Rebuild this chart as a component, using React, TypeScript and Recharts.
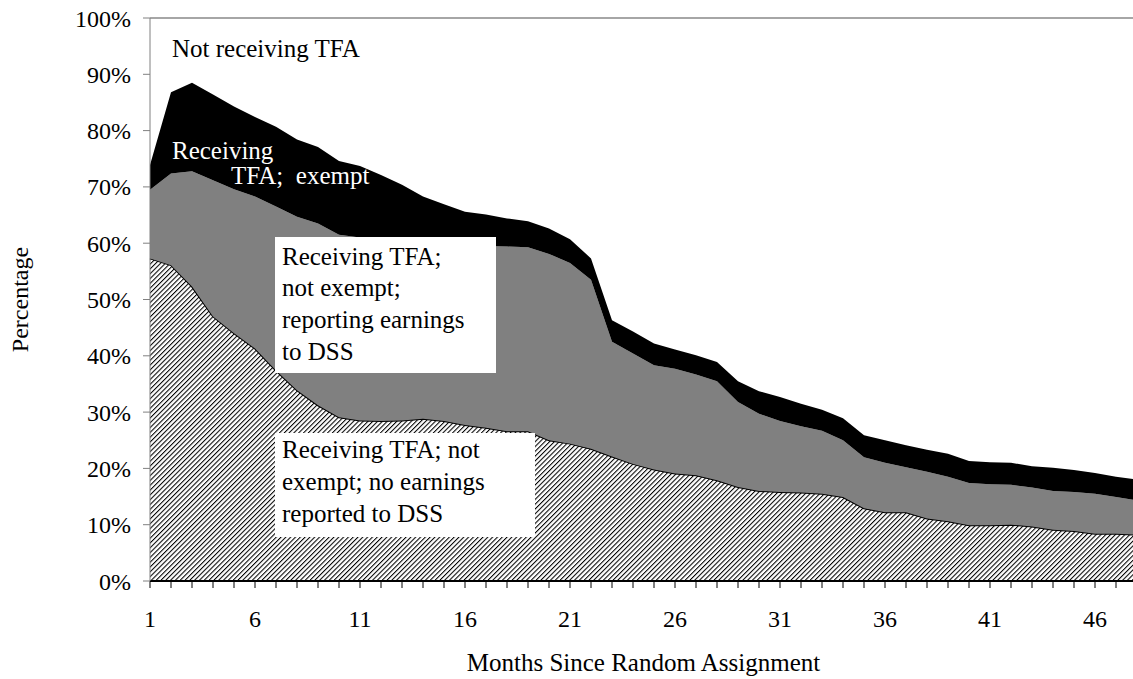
import React from 'react';
import { Area, AreaChart, ReferenceLine, XAxis, YAxis } from 'recharts';

const months = [
  1, 2, 3, 4, 5, 6, 7, 8, 9, 10, 11, 12, 13, 14, 15, 16, 17, 18, 19, 20, 21, 22, 23, 24,
  25, 26, 27, 28, 29, 30, 31, 32, 33, 34, 35, 36, 37, 38, 39, 40, 41, 42, 43, 44, 45, 46, 47, 48,
];

// Receiving TFA; not exempt; no earnings reported to DSS
const noEarnings = [
  57.3, 56.1, 52.3, 47.0, 44.0, 41.3, 37.4, 33.9, 31.2, 29.1,
  28.5, 28.4, 28.5, 28.8, 28.4, 27.7, 27.2, 26.6, 26.6, 25.0,
  24.4, 23.5, 22.1, 20.8, 19.8, 19.1, 18.8, 17.9, 16.7, 16.0,
  15.8, 15.7, 15.5, 14.9, 12.9, 12.2, 12.2, 11.1, 10.6, 9.9,
  9.9, 10.0, 9.7, 9.1, 8.9, 8.4, 8.4, 8.2,
];

// Receiving TFA; not exempt; reporting earnings to DSS
const reportingEarnings = [
  12.2, 16.3, 20.5, 24.2, 25.6, 27.0, 29.1, 30.8, 32.3, 32.4,
  32.5, 32.3, 31.9, 31.3, 31.4, 31.8, 32.3, 32.8, 32.7, 33.1,
  32.1, 30.0, 20.4, 19.6, 18.5, 18.6, 17.9, 17.6, 15.1, 13.7,
  12.6, 11.8, 11.2, 10.1, 9.1, 8.8, 8.0, 8.3, 7.9, 7.5,
  7.3, 7.1, 6.9, 6.9, 6.9, 7.1, 6.5, 6.1,
];

// Receiving TFA; exempt
const exempt = [
  4.4, 14.4, 15.7, 15.2, 14.7, 14.1, 14.2, 13.7, 13.6, 13.1,
  12.7, 11.4, 10.0, 8.2, 7.1, 6.1, 5.6, 5.0, 4.6, 4.5,
  4.2, 3.8, 3.8, 3.9, 3.9, 3.4, 3.4, 3.4, 3.7, 4.0,
  4.3, 4.0, 3.7, 3.9, 3.9, 4.0, 3.9, 3.9, 4.1, 3.9,
  3.9, 3.9, 3.8, 4.1, 3.9, 3.7, 3.6, 3.7,
];

const xTickLabels = [1, 6, 11, 16, 21, 26, 31, 36, 41, 46];
const yTicks = [0, 10, 20, 30, 40, 50, 60, 70, 80, 90, 100];

const data = months.map((month, i) => ({
  month,
  noEarnings: noEarnings[i],
  reportingEarnings: reportingEarnings[i],
  exempt: exempt[i],
}));

const FONT = "'Liberation Serif', 'Times New Roman', serif";

const note: React.CSSProperties = {
  position: 'absolute',
  fontFamily: FONT,
  fontSize: 25,
  lineHeight: '31.7px',
  whiteSpace: 'pre',
  color: '#000',
};

export default function App() {
  return (
    <div
      style={{
        position: 'absolute',
        left: 0,
        top: 0,
        width: 1133,
        height: 679,
        overflow: 'hidden',
        background: '#fff',
        fontFamily: FONT,
      }}
    >
      <AreaChart
        width={1145}
        height={679}
        data={data}
        margin={{ top: 18, right: 8, bottom: 0, left: 0 }}
        style={{ fontFamily: FONT }}
      >
        <defs>
          <pattern
            id="hatch"
            width="3.4"
            height="3.4"
            patternUnits="userSpaceOnUse"
            patternTransform="rotate(45)"
          >
            <rect width="3.4" height="3.4" fill="#fff" />
            <line x1="0" y1="0" x2="0" y2="3.4" stroke="#000" strokeWidth="2.1" />
          </pattern>
        </defs>
        <Area
          type="linear"
          dataKey="noEarnings"
          stackId="a"
          fill="url(#hatch)"
          fillOpacity={1}
          stroke="#000"
          strokeWidth={2}
          isAnimationActive={false}
          dot={false}
          activeDot={false}
        />
        <Area
          type="linear"
          dataKey="reportingEarnings"
          stackId="a"
          fill="#808080"
          fillOpacity={1}
          stroke="none"
          isAnimationActive={false}
          dot={false}
          activeDot={false}
        />
        <Area
          type="linear"
          dataKey="exempt"
          stackId="a"
          fill="#000"
          fillOpacity={1}
          stroke="none"
          isAnimationActive={false}
          dot={false}
          activeDot={false}
        />
        <ReferenceLine y={100} stroke="#888" strokeWidth={1.5} />
        <XAxis
          dataKey="month"
          type="number"
          domain={[1, 48]}
          ticks={months}
          interval={0}
          height={98}
          tickSize={7}
          tickMargin={22}
          axisLine={{ stroke: '#000', strokeWidth: 2 }}
          tickLine={{ stroke: '#000' }}
          tick={{ fill: '#000', fontSize: 24, fontFamily: FONT }}
          tickFormatter={(v: number) => (xTickLabels.includes(v) ? String(v) : '')}
          label={{
            value: 'Months Since Random Assignment',
            position: 'insideBottom',
            offset: 8,
            style: { fill: '#000', fontSize: 25, fontFamily: FONT },
          }}
        />
        <YAxis
          type="number"
          domain={[0, 100]}
          ticks={yTicks}
          width={150}
          tickSize={7}
          tickMargin={12}
          axisLine={{ stroke: '#808080' }}
          tickLine={{ stroke: '#808080' }}
          tick={{ fill: '#000', fontSize: 24, fontFamily: FONT }}
          tickFormatter={(v: number) => `${v}%`}
          label={{
            value: 'Percentage',
            angle: -90,
            position: 'insideLeft',
            offset: 19,
            style: { fill: '#000', fontSize: 24, fontFamily: FONT, textAnchor: 'middle' },
          }}
        />
      </AreaChart>

      <div style={{ ...note, left: 172, top: 33 }}>Not receiving TFA</div>
      <div style={{ ...note, left: 172, top: 135, color: '#fff' }}>Receiving</div>
      <div style={{ ...note, left: 231, top: 160, color: '#fff' }}>{'TFA;  exempt'}</div>

      <div
        style={{
          ...note,
          left: 275,
          top: 236.7,
          width: 221,
          height: 136,
          background: '#fff',
          padding: '4px 0 0 7px',
          boxSizing: 'border-box',
        }}
      >
        {'Receiving TFA;\nnot exempt;\nreporting earnings\nto DSS'}
      </div>

      <div
        style={{
          ...note,
          left: 275,
          top: 433.3,
          width: 260,
          height: 103.4,
          background: '#fff',
          padding: '1px 0 0 7px',
          boxSizing: 'border-box',
        }}
      >
        {'Receiving TFA; not\nexempt; no earnings\nreported to DSS'}
      </div>
    </div>
  );
}
